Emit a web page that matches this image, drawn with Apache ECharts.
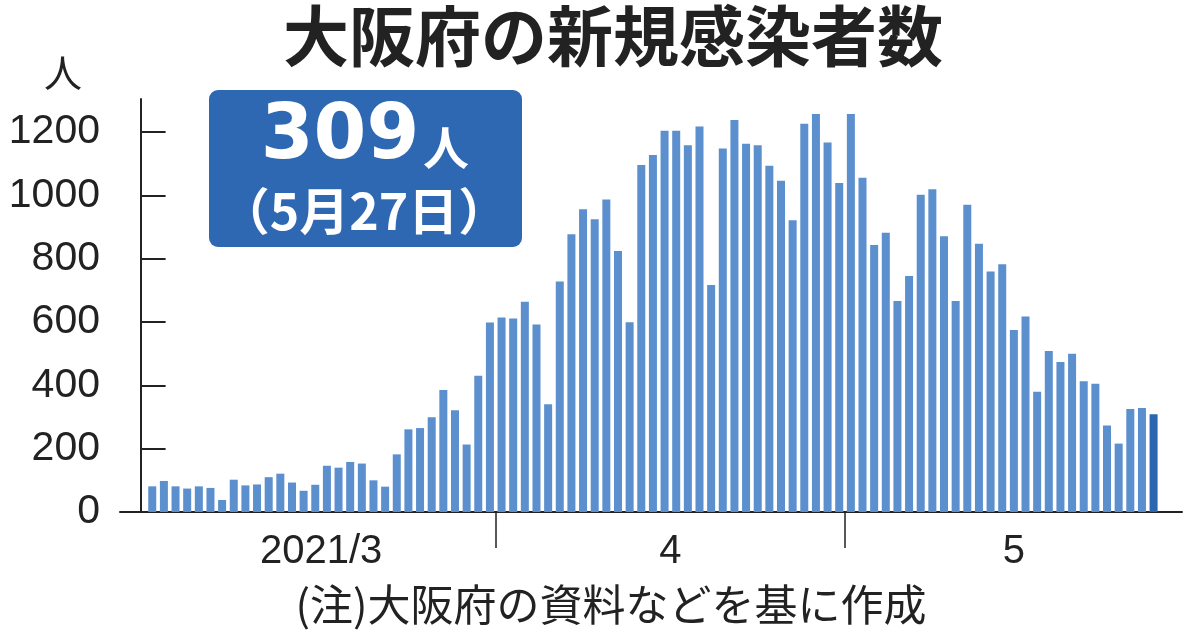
<!DOCTYPE html>
<html>
<head>
<meta charset="utf-8">
<script src="https://cdn.jsdelivr.net/npm/echarts@6/dist/echarts.min.js"></script>
<style>
html,body{margin:0;padding:0;background:#fff;}
#chart{width:1200px;height:630px;}
</style>
</head>
<body>
<div id="chart"></div>
<script>
// Daily new cases in Osaka, 2021-03-02 .. 2021-05-27
const firstDate = '2021-03-02';
const marchValues = [81, 98, 81, 74, 81, 76, 38, 102, 84, 87, 110, 121, 93, 67, 86,
  146, 140, 158, 153, 100, 80, 182, 261, 265, 299, 385, 321, 213, 430, 598];
const aprilValues = [614, 611, 664, 592, 340, 728, 877, 956, 924, 987, 824, 599, 1096, 1127, 1204,
  1204, 1158, 1217, 717, 1148, 1238, 1163, 1158, 1093, 1046, 921, 1226, 1257, 1167, 1039];
const mayValues = [1257, 1055, 843, 882, 666, 745, 1002, 1019, 871, 666, 970, 847, 759, 782, 575,
  617, 380, 508, 474, 500, 413, 405, 273, 216, 325, 328, 309];
const values = marchValues.concat(aprilValues, mayValues);

// x positions are day numbers counted from 2021-03-01 (=0)
const monthLabels = ['2021/3', '4', '5'];
const monthLabelDays = [15.5, 45.5, 75];
const monthStartDays = [30.5, 60.5];
const yTicks = [0, 200, 400, 600, 800, 1000, 1200];

const title = '大阪府の新規感染者数';
const latestValue = '309';
const latestDate = '（5月27日）';
const unit = '人';
const note = '(注)大阪府の資料などを基に作成';

const base = new Date(firstDate + 'T00:00:00Z');
const dates = values.map((v, i) => {
  const d = new Date(base.getTime() + i * 86400000);
  return d.toISOString().slice(0, 10);
});
const barData = values.map((v, i) => {
  const item = { value: [i + 1, v], name: dates[i] };
  if (i === values.length - 1) item.itemStyle = { color: '#2d66b0' };
  return item;
});

const numFont = '"Liberation Sans Narrow", "Liberation Sans", sans-serif';
const cjkFont = '"Noto Sans CJK JP", sans-serif';

const chart = echarts.init(document.getElementById('chart'), null, { renderer: 'canvas' });
chart.setOption({
  animation: false,
  backgroundColor: '#ffffff',
  grid: { left: 120, right: 18, top: 99, bottom: 118, containLabel: false, outerBoundsMode: 'none' },
  xAxis: {
    type: 'value',
    min: -1.77,
    max: 89.44,
    splitLine: { show: false },
    axisLine: { show: true, onZero: false, lineStyle: { color: '#222', width: 2 } },
    axisTick: { show: true, customValues: monthStartDays, length: 36, lineStyle: { color: '#222', width: 1.5 } },
    axisLabel: {
      show: true,
      customValues: monthLabelDays,
      formatter: function (val) {
        const k = monthLabelDays.indexOf(val);
        return k >= 0 ? monthLabels[k] : '';
      },
      fontFamily: numFont,
      fontSize: 40,
      color: '#222',
      margin: 20
    }
  },
  yAxis: {
    type: 'value',
    min: 0,
    max: 1304,
    splitLine: { show: false },
    axisLine: { show: true, lineStyle: { color: '#222', width: 2 } },
    axisTick: { show: true, inside: true, length: 25, customValues: yTicks, lineStyle: { color: '#222', width: 2 } },
    axisLabel: {
      show: true,
      customValues: yTicks,
      formatter: function (val) { return String(val); },
      fontFamily: numFont,
      fontSize: 41,
      color: '#222',
      margin: 20
    }
  },
  series: [{
    type: 'bar',
    data: barData,
    barWidth: 8,
    itemStyle: { color: '#5b8fce' }
  }],
  graphic: [
    {
      type: 'text', x: 613, y: 36,
      style: { text: title, font: 'bold 66px ' + cjkFont, fill: '#222', align: 'center', verticalAlign: 'middle', textAlign: 'center', textVerticalAlign: 'middle' }
    },
    {
      type: 'text', x: 63, y: 73,
      style: { text: unit, font: '38px ' + cjkFont, fill: '#222', align: 'center', verticalAlign: 'middle', textAlign: 'center', textVerticalAlign: 'middle' }
    },
    {
      type: 'rect',
      shape: { x: 209, y: 90, width: 313, height: 157, r: 9 },
      style: { fill: '#2f68b2' }
    },
    {
      type: 'text', x: 340, y: 138,
      style: { text: latestValue, font: 'bold 76px "DejaVu Sans", sans-serif', fill: '#fff', align: 'center', verticalAlign: 'middle', textAlign: 'center', textVerticalAlign: 'middle' }
    },
    {
      type: 'text', x: 446, y: 148,
      style: { text: unit, font: 'bold 46px ' + cjkFont, fill: '#fff', align: 'center', verticalAlign: 'middle', textAlign: 'center', textVerticalAlign: 'middle' }
    },
    {
      type: 'text', x: 364, y: 211,
      style: { text: latestDate, font: 'bold 50px ' + cjkFont, fill: '#fff', align: 'center', verticalAlign: 'middle', textAlign: 'center', textVerticalAlign: 'middle' }
    },
    {
      type: 'text', x: 611, y: 605,
      style: { text: note, font: '43px ' + cjkFont, fill: '#222', align: 'center', verticalAlign: 'middle', textAlign: 'center', textVerticalAlign: 'middle' }
    }
  ]
});
</script>
</body>
</html>
